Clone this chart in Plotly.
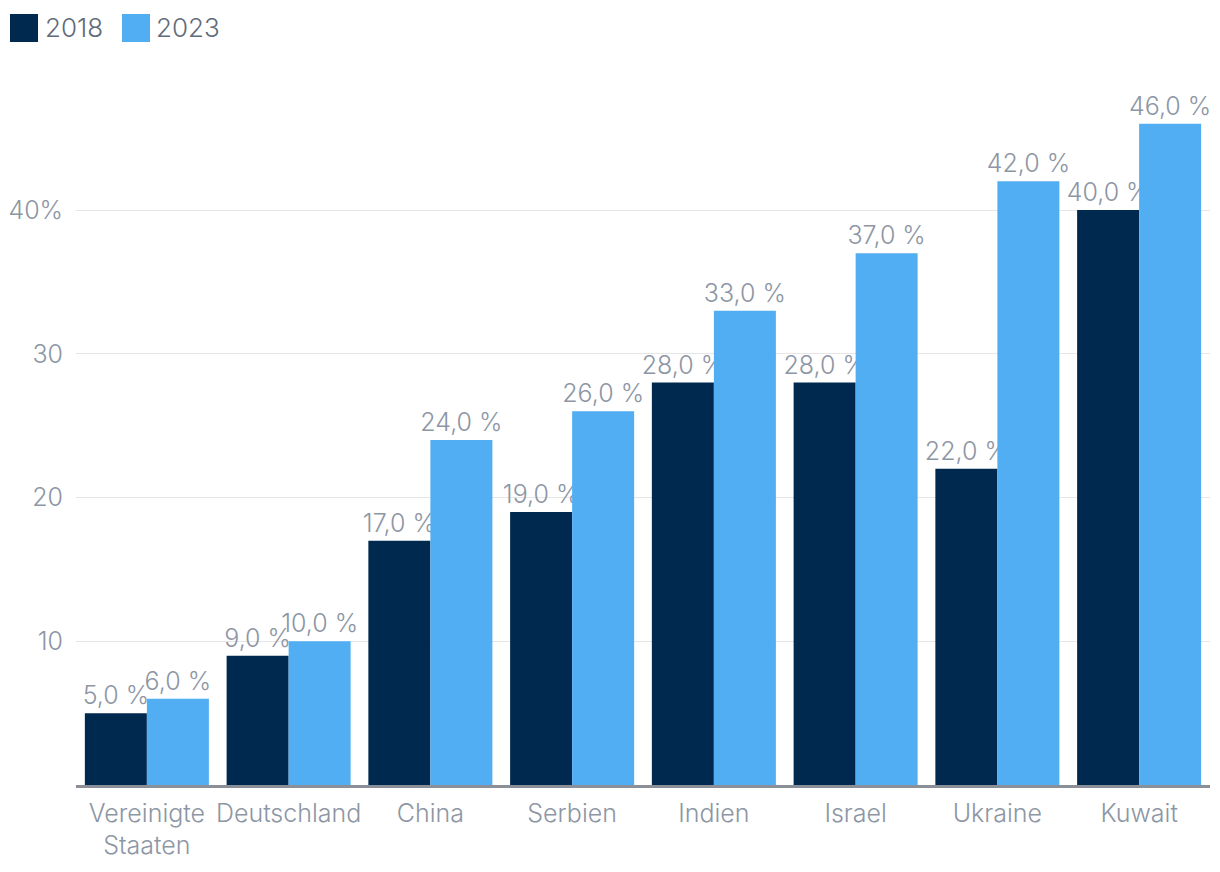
import plotly.graph_objects as go

categories = ["Vereinigte<br>Staaten", "Deutschland", "China", "Serbien", "Indien", "Israel", "Ukraine", "Kuwait"]
values_2018 = [5, 9, 17, 19, 28, 28, 22, 40]
values_2023 = [6, 10, 24, 26, 33, 37, 42, 46]
tick_vals = [10, 20, 30, 40]
tick_text = ["10", "20", "30", "40%"]

C18 = "#00294F"
C23 = "#52AEF3"
GREY = "#8D96A4"
FONT = "Inter"

def fmt(v):
    return f"{v:.1f}".replace(".", ",") + " %"

fig = go.Figure()
for name, vals, col in [("2018", values_2018, C18), ("2023", values_2023, C23)]:
    fig.add_trace(go.Bar(
        x=categories, y=vals, name=name, marker=dict(color=col, line=dict(width=0)),
        text=[fmt(v) for v in vals], textposition="outside", cliponaxis=False,
        constraintext="none",
        textfont=dict(color=GREY, size=25, family=FONT, weight=300),
        showlegend=False,
    ))

# page offset of 8px; figure coords
FW, FH = 1212, 864
L, R, T, B = 68, 1202, 87, 777
W, H = R - L, B - T
def px(x):
    return (x - L) / W
def py(y):
    return (B - y) / H

shapes = []
annotations = []
for (x0, label, col, tx) in [(2, "2018", C18, 35), (114, "2023", C23, 146)]:
    shapes.append(dict(type="rect", xref="paper", yref="paper",
                       x0=px(x0), x1=px(x0 + 28), y0=py(34), y1=py(6),
                       fillcolor=col, line=dict(width=0)))
    annotations.append(dict(xref="paper", yref="paper", x=px(tx), y=py(20),
                            text=label, showarrow=False, xanchor="left", yanchor="middle",
                            font=dict(color="#5F6B7A", size=26, family=FONT, weight=300)))

fig.update_layout(
    width=FW, height=FH,
    margin=dict(l=L, r=FW - R, t=T, b=FH - B),
    paper_bgcolor="white", plot_bgcolor="white",
    barmode="group", bargap=0.125, bargroupgap=0,
    font=dict(family=FONT, color=GREY, size=24, weight=300),
    showlegend=False,
    shapes=shapes, annotations=annotations,
)
fig.update_xaxes(showline=True, linecolor="#8A8F98", linewidth=2.5, ticks="",
                 tickfont=dict(size=25, color=GREY, family=FONT, weight=300),
                 showgrid=False, ticklabelstandoff=4, automargin=False)
fig.update_yaxes(range=[0, 48], tickvals=tick_vals, ticktext=tick_text,
                 showgrid=True, gridcolor="#E6E6E6", gridwidth=1.2, zeroline=False,
                 tickfont=dict(size=25, color=GREY, family=FONT, weight=300),
                 ticklabelstandoff=12, automargin=False)

fig.write_html("out.html")
